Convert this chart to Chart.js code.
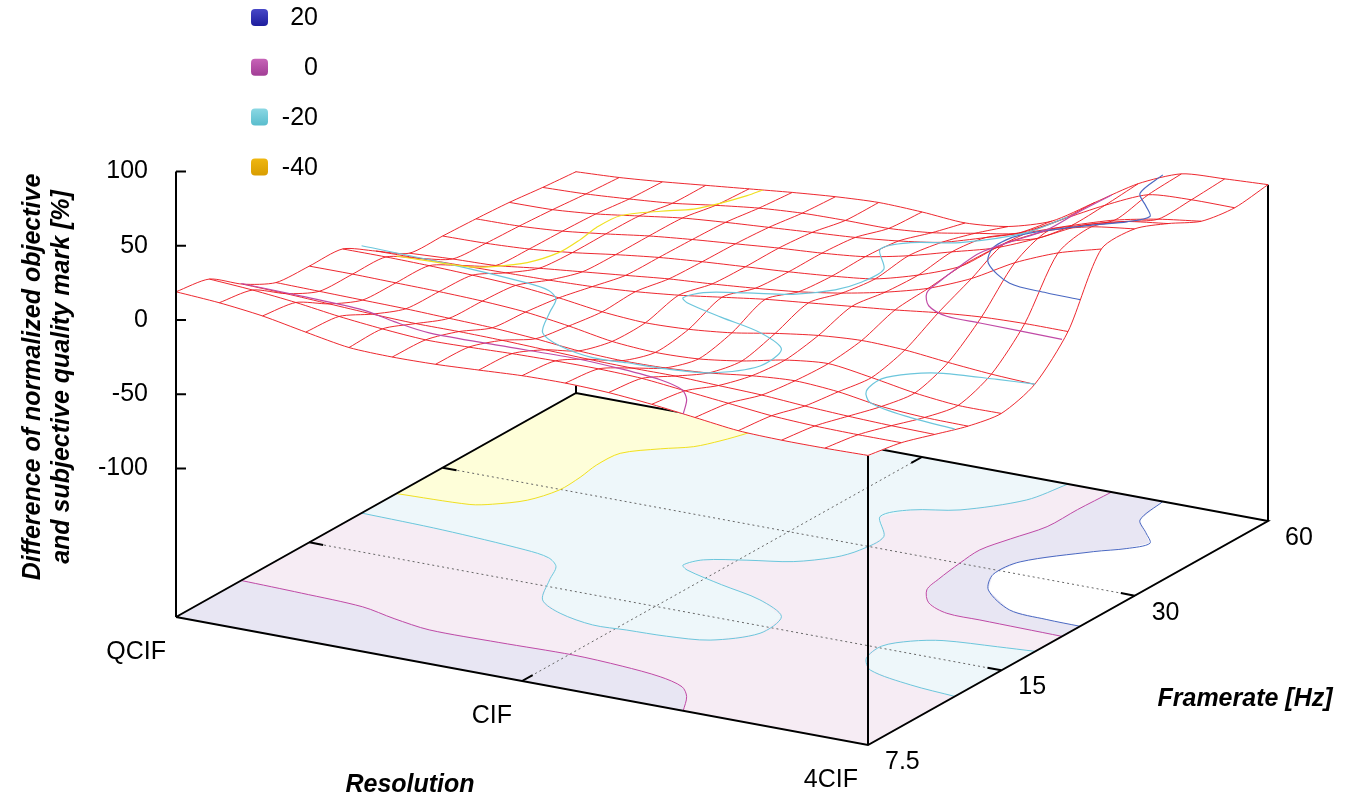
<!DOCTYPE html>
<html>
<head>
<meta charset="utf-8">
<script src="https://cdn.jsdelivr.net/npm/chart.js@4.4.1/dist/chart.umd.min.js"></script>
<style>
  html, body { margin: 0; padding: 0; background: #fff; }
  #wrap { width: 1362px; height: 803px; }
</style>
</head>
<body>
<div id="wrap"><canvas id="chart" width="1362" height="803"></canvas></div>
<script>
// axis categories
const resolutions = ['QCIF', 'CIF', '4CIF'];
const framerates = ['7.5', '15', '30', '60'];
const zTicks = [-100, -50, 0, 50, 100];
const contourLevels = [20, 0, -20, -40];

// sample positions of the surface (resolution index, framerate index)
const resSteps = [0, 0.125, 0.25, 0.375, 0.5, 0.625, 0.75, 0.875, 1, 1.125, 1.25, 1.375, 1.5, 1.625, 1.75, 1.875, 2];
const frSteps = [0, 0.25, 0.5, 0.75, 1, 1.25, 1.5, 1.75, 2, 2.25, 2.5, 2.75, 3];

// surface height [%], one row per framerate step
const zRows = [
  [19, 17, 13.5, 8, 3, 2, 2.5, 4, 5.6, 6, 5, 2.5, -1, -4.5, -5.5, -5.5, -5],
  [15, 13, 10, 6, 3, 1, 1.5, 2.5, 3, 3, 2, -1, -4, -7, -8.5, -9, -9],
  [-1, -2, -3.5, -5, -6, -6, -6.5, -7.5, -8.5, -9, -9, -10, -11, -13, -14.5, -15.5, -16],
  [-12.5, -13, -13.5, -14, -15, -16, -18, -20.8, -22, -21.5, -19.5, -16, -14, -16, -20.5, -22.5, -23],
  [-14, -14, -14.5, -15, -16, -18, -22, -27, -29, -28, -24, -18, -15, -19, -24, -27, -27],
  [-15, -15, -15.5, -16.5, -18, -21, -25, -27, -26, -23, -18, -14, -12, -13, -16, -18.5, -20],
  [-29, -28.5, -28, -27.5, -27, -26, -24, -21, -17, -13, -10, -7, -4, -0.5, 2, 3, 3],
  [-43, -41.5, -40.5, -37, -34, -31, -28, -26, -23.5, -20.5, -16, -10, -2, 10, 26, 38, 46],
  [-44, -43.5, -42, -39, -35, -31.5, -29, -27, -25, -22.5, -19, -11, 0.5, 21, 35, 43, 47],
  [-45, -44.5, -42.5, -39, -35, -32, -29.5, -27, -25, -22, -16, -8, 0, 12, 26, 34, 38],
  [-46.5, -46, -43.5, -39.5, -35.5, -33, -31, -29, -27, -24, -19.5, -11, -2, 8, 17, 23, 27],
  [-49, -48, -46, -43.5, -39.5, -36, -34, -33.5, -33.5, -31, -26, -20.5, -6, 9, 21.5, 23.5, 23.5],
  [-51, -49.5, -47, -44, -41, -38, -35.5, -34, -35, -37, -34, -25, -7, 11, 23, 25, 26.5]
];

// contour lines [resolution index, framerate index]
const contour20 = [[1.696,3],[1.718,2.772],[1.78,2.655],[1.83,2.556],[1.8,2.46],[1.74,2.367],[1.62,2.127],[1.61,1.95],[1.66,1.785],[1.784,1.623],[1.9,1.596],[2,1.59]];
const contour0a = [[0,0.489],[0.18,0.474],[0.366,0.45],[0.48,0.39],[0.6,0.342],[0.8,0.345],[1.01,0.357],[1.16,0.336],[1.284,0.3],[1.37,0.24],[1.418,0.15],[1.466,0]];
const contour0b = [[1.548,3],[1.542,2.76],[1.542,2.532],[1.51,2.34],[1.486,2.172],[1.494,2.001],[1.51,1.8],[1.526,1.671],[1.58,1.545],[1.66,1.473],[1.758,1.467],[2,1.455]];
const contourM20a = [[0,1.392],[0.242,1.373],[0.5,1.326],[0.58,1.29],[0.63,1.215],[0.668,1.068],[0.73,0.855],[0.82,0.753],[0.936,0.696],[1.03,0.708],[1.14,0.72],[1.25,0.762],[1.332,0.924],[1.314,1.131],[1.202,1.26],[1.06,1.341],[0.928,1.425],[0.9,1.467],[0.924,1.557],[1.02,1.635],[1.126,1.707],[1.2,1.83],[1.226,1.947],[1.226,2.127],[1.14,2.322],[1.18,2.445],[1.288,2.538],[1.394,2.763],[1.422,3]];
const contourM20b = [[2,0.651],[1.86,0.684],[1.714,0.759],[1.66,0.87],[1.646,1.02],[1.69,1.125],[1.758,1.191],[1.9,1.23],[2,1.254]];
const contourM40 = [[0,1.653],[0.202,1.68],[0.25,1.725],[0.31,1.83],[0.34,1.992],[0.336,2.16],[0.324,2.313],[0.33,2.475],[0.4,2.595],[0.464,2.679],[0.5,2.79],[0.528,2.913],[0.54,3]];

// view of the 3d box on the page
const W = 1362, H = 803;
const origin = { x: 176, y: 617 };
const resVec = { x: 692, y: 128 };
const frVec = { x: 400, y: -224 };
const zBase = -200, zTop = 100, zScale = 1.485;
const lastRes = resolutions.length - 1, lastFr = framerates.length - 1;

function proj(r, f, z) {
  const u = r / lastRes, v = f / lastFr;
  return {
    x: origin.x + u * resVec.x + v * frVec.x,
    y: origin.y + u * resVec.y + v * frVec.y - (z - zBase) * zScale
  };
}

const red = 'rgba(236,28,36,0.95)';
const lineColors = { '20': '#4a68c2', '0': '#c04aa6', '-20': '#6cc6dc', '-40': '#f0e020' };
const keyColors = { '20': ['#4848c8', '#1c1c9c'], '0': ['#c864b8', '#a03c94'], '-20': ['#8cd8e4', '#58bccc'], '-40': ['#f0b810', '#d89c00'] };

const datasets = [];
function addLine(pts, opt) {
  datasets.push(Object.assign({
    data: pts.map(p => proj(p[0], p[1], p[2])),
    showLine: true, pointRadius: 0, borderWidth: 1, borderColor: '#000',
    backgroundColor: 'rgba(0,0,0,0)', fill: false, tension: 0
  }, opt));
}
function addPoly(pts, z, color, edge) {
  const closed = pts.concat([pts[0]]);
  addLine(closed.map(p => [p[0], p[1], z === null ? p[2] : z]),
    { fill: 'shape', backgroundColor: color, borderColor: edge || color, borderWidth: 0.6 });
}
const onBase = (pts, z) => pts.map(p => [p[0], p[1], z]);
const zAt = (i, j) => zRows[j][i];

// base plane fills between the contour levels
addPoly([[0, 0], [lastRes, 0], [lastRes, lastFr], [0, lastFr]], zBase, '#f6ecf4');
addPoly([[0, 0]].concat(contour0a), zBase, '#e8e6f3');
addPoly(contourM20a.concat([[0, lastFr]]), zBase, '#eef7fa');
addPoly(contourM40.concat([[0, lastFr]]), zBase, '#fefed9');
addPoly(contourM20b, zBase, '#eef7fa');
addPoly(contour0b.concat([[lastRes, lastFr]]), zBase, '#e8e6f3');
addPoly(contour20.concat([[lastRes, lastFr]]), zBase, '#ffffff');

// grid lines on the base
const dotted = { borderColor: '#666', borderWidth: 1, borderDash: [2, 3] };
addLine([[0, 1, zBase], [lastRes, 1, zBase]], dotted);
addLine([[0, 2, zBase], [lastRes, 2, zBase]], dotted);
addLine([[1, 0, zBase], [1, lastFr, zBase]], dotted);

// base contours
const contours = [[contour20, 20], [contour0a, 0], [contour0b, 0], [contourM20a, -20], [contourM20b, -20], [contourM40, -40]];
contours.forEach(([pts, lev]) => addLine(onBase(pts, zBase), { borderColor: lineColors[lev], borderWidth: 1, tension: 0.3 }));

// box border, ticks and corner posts
const border = { borderColor: '#000', borderWidth: 2 };
addLine([[0, 0, zBase], [lastRes, 0, zBase], [lastRes, lastFr, zBase], [0, lastFr, zBase], [0, 0, zBase]], border);
[1, 2].forEach(f => {
  addLine([[0, f, zBase], [0.04, f, zBase]], border);
  addLine([[lastRes, f, zBase], [lastRes - 0.04, f, zBase]], border);
});
addLine([[1, 0, zBase], [1, 0.08, zBase]], border);
addLine([[1, lastFr, zBase], [1, lastFr - 0.08, zBase]], border);
const nr = resSteps.length - 1, nf = frSteps.length - 1;
addLine([[lastRes, 0, zBase], [lastRes, 0, zAt(nr, 0)]], border);
addLine([[lastRes, lastFr, zBase], [lastRes, lastFr, zAt(nr, nf)]], border);
addLine([[0, lastFr, zBase], [0, lastFr, zAt(0, nf)]], border);

// surface patches painted back to front, they hide what lies behind
const cells = [];
for (let j = 0; j < nf; j++) {
  for (let i = 0; i < nr; i++) {
    const corners = [[i, j], [i + 1, j], [i + 1, j + 1], [i, j + 1]]
      .map(([a, b]) => [resSteps[a], frSteps[b], zAt(a, b)]);
    const depth = proj((resSteps[i] + resSteps[i + 1]) / 2, (frSteps[j] + frSteps[j + 1]) / 2, zBase).y;
    cells.push({ corners, depth });
  }
}
cells.sort((a, b) => a.depth - b.depth);
cells.forEach(c => addPoly(c.corners, null, '#ffffff'));

// mesh lines
const mesh = { borderColor: red, borderWidth: 1, tension: 0.25 };
for (let j = 0; j <= nf; j++) addLine(resSteps.map((r, i) => [r, frSteps[j], zAt(i, j)]), mesh);
for (let i = 0; i <= nr; i++) addLine(frSteps.map((f, j) => [resSteps[i], f, zAt(i, j)]), mesh);

// contours on the surface
contours.forEach(([pts, lev]) => addLine(onBase(pts, lev), { borderColor: lineColors[lev], borderWidth: 1.2, tension: 0.3 }));

// z axis
addLine([[0, 0, zBase], [0, 0, zTop]], border);
zTicks.forEach(t => {
  const p = proj(0, 0, t);
  datasets.push({ data: [p, { x: p.x + 10, y: p.y }], showLine: true, pointRadius: 0, borderColor: '#000', borderWidth: 2, fill: false });
});

datasets.forEach((d, i) => { d.order = datasets.length - i; });

const textPlugin = {
  id: 'plotText',
  afterDraw(chart) {
    const { ctx, scales: { x, y } } = chart;
    const at = (r, f, z) => { const p = proj(r, f, z); return [x.getPixelForValue(p.x), y.getPixelForValue(p.y)]; };
    const font = '"Liberation Sans", Arial, sans-serif';
    ctx.save();
    ctx.fillStyle = '#000';
    ctx.font = '25px ' + font;
    ctx.textBaseline = 'middle';

    ctx.textAlign = 'right';
    zTicks.forEach(t => { const [px, py] = at(0, 0, t); ctx.fillText(String(t), px - 28, py); });
    resolutions.forEach((lab, i) => { const [px, py] = at(i, 0, zBase); ctx.fillText(lab, px - 10, py + 35); });
    ctx.textAlign = 'left';
    framerates.forEach((lab, i) => { const [px, py] = at(lastRes, i, zBase); ctx.fillText(lab, px + 17, py + 17); });

    // legend of contour levels
    contourLevels.forEach((lev, k) => {
      const cy = 17.5 + k * 49.8;
      const g = ctx.createLinearGradient(0, cy - 9, 0, cy + 9);
      g.addColorStop(0, keyColors[lev][0]);
      g.addColorStop(1, keyColors[lev][1]);
      ctx.fillStyle = g;
      ctx.beginPath();
      ctx.roundRect(251, cy - 8.5, 17, 17, 4);
      ctx.fill();
      ctx.fillStyle = '#000';
      ctx.textAlign = 'right';
      ctx.fillText(String(lev), 318, cy + 1);
    });

    // axis titles
    ctx.font = 'italic bold 25px ' + font;
    ctx.textAlign = 'center';
    const [fx, fy] = at(lastRes, 0, zBase);
    ctx.fillText('Resolution', fx - 458, fy + 40);
    const [bx, by] = at(lastRes, 1.5, zBase);
    ctx.fillText('Framerate [Hz]', bx + 177, by + 66);
    ctx.translate(33, 377);
    ctx.rotate(-Math.PI / 2);
    ctx.fillText('Difference of normalized objective', 0, 0);
    ctx.fillText('and subjective quality mark [%]', 0, 29);
    ctx.restore();
  }
};

new Chart(document.getElementById('chart'), {
  type: 'scatter',
  data: { datasets },
  plugins: [textPlugin],
  options: {
    responsive: false,
    animation: false,
    events: [],
    layout: { padding: 0 },
    scales: {
      x: { type: 'linear', min: 0, max: W, display: false },
      y: { type: 'linear', min: 0, max: H, reverse: true, display: false }
    },
    plugins: { legend: { display: false }, tooltip: { enabled: false } }
  }
});
</script>
</body>
</html>
